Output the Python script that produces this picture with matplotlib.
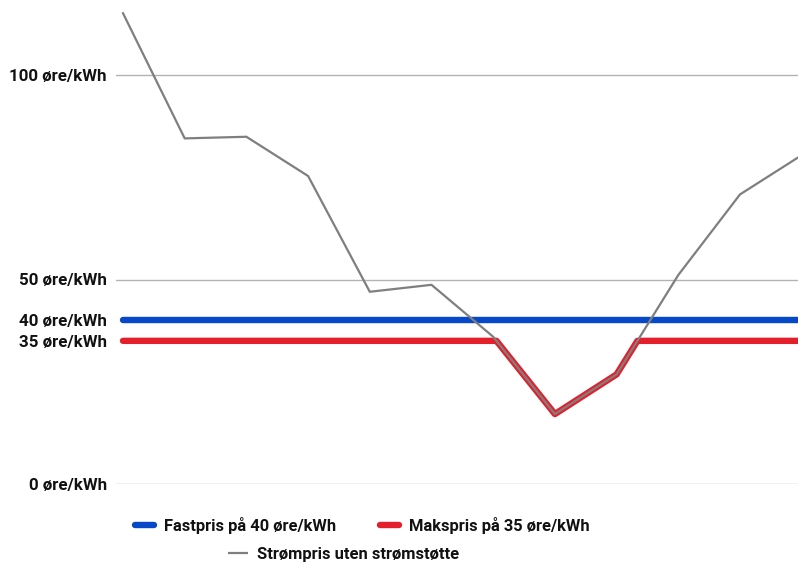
import numpy as np
import matplotlib
matplotlib.use("Agg")
import matplotlib.pyplot as plt
from matplotlib.lines import Line2D

# ---- data ----
months = list(range(12))
spot_price = [115.1, 84.5, 84.9, 75.3, 47.0, 48.7, 36.0, 17.1, 26.8, 51.1, 70.8, 80.4]
fixed_price = 40
max_price = 35
ytick_values = [0, 35, 40, 50, 100]
ytick_labels = ["0 øre/kWh", "35 øre/kWh", "40 øre/kWh", "50 øre/kWh", "100 øre/kWh"]
grid_values = [0, 50, 100]
label_fixed = "Fastpris på 40 øre/kWh"
label_max = "Makspris på 35 øre/kWh"
label_spot = "Strømpris uten strømstøtte"

# red line: spot price capped at max price (with crossing points)
xs, ys = [], []
for i in range(len(months)):
    if i > 0:
        a, b = spot_price[i - 1], spot_price[i]
        if (a - max_price) * (b - max_price) < 0:
            t = (max_price - a) / (b - a)
            xs.append(months[i - 1] + t)
            ys.append(max_price)
    xs.append(months[i])
    ys.append(min(spot_price[i], max_price))

FONT = "Roboto"
W, H = 798, 577
fig = plt.figure(figsize=(W / 100, H / 100), dpi=100)
ax_left, ax_right = 116, 798
ax_bottom, ax_top = 484, 5
ax = fig.add_axes([ax_left / W, 1 - ax_bottom / H, (ax_right - ax_left) / W, (ax_bottom - ax_top) / H])

px_per_month = 61.7
x0 = -(123 - ax_left) / px_per_month
x1 = (ax_right - 123) / px_per_month
ax.set_xlim(x0, x1)
ax.set_ylim(0, (ax_bottom - ax_top) / 4.09)

for g in grid_values:
    ax.axhline(g, color="#b3b3b3", lw=1.0, zorder=1)

blue = "#0648c8"
red = "#e31f2c"
grey = "#7f7f7f"

ax.plot([months[0], x1 + 1], [fixed_price, fixed_price], color=blue, lw=4.6,
        solid_capstyle="round", zorder=3)
red_x = xs + [x1 + 1]
red_y = ys + [max_price]
ax.plot(red_x, red_y, color=red, lw=4.6, solid_capstyle="round",
        solid_joinstyle="round", zorder=3)
ax.plot(months, spot_price, color=grey, lw=1.6, zorder=4)

ax.set_yticks(ytick_values)
ax.set_yticklabels(ytick_labels, fontfamily=FONT, fontweight="bold", fontsize=12.2)
ax.tick_params(axis="y", length=0, pad=6.5, colors="#111111")
ax.set_xticks([])
for s in ax.spines.values():
    s.set_visible(False)

h_fixed = Line2D([], [], color=blue, lw=4.6, solid_capstyle="round")
h_max = Line2D([], [], color=red, lw=4.6, solid_capstyle="round")
h_spot = Line2D([], [], color=grey, lw=1.6, solid_capstyle="butt")

leg_font = dict(family=FONT, weight="bold", size=11.9)
leg1 = fig.legend([h_fixed, h_max], [label_fixed, label_max], ncol=2,
                  loc="center left", bbox_to_anchor=(135 / W, 1 - 525.5 / H),
                  frameon=False, prop=leg_font, handlelength=1.15,
                  handletextpad=0.6, columnspacing=2.67, borderpad=0, borderaxespad=0)
leg2 = fig.legend([h_spot], [label_spot], loc="center left",
                  bbox_to_anchor=(228 / W, 1 - 554.5 / H), frameon=False,
                  prop=leg_font, handlelength=1.2, handletextpad=0.55,
                  borderpad=0, borderaxespad=0)
for leg in (leg1, leg2):
    for t in leg.get_texts():
        t.set_color("#111111")

fig.savefig("out.png", dpi=100)
